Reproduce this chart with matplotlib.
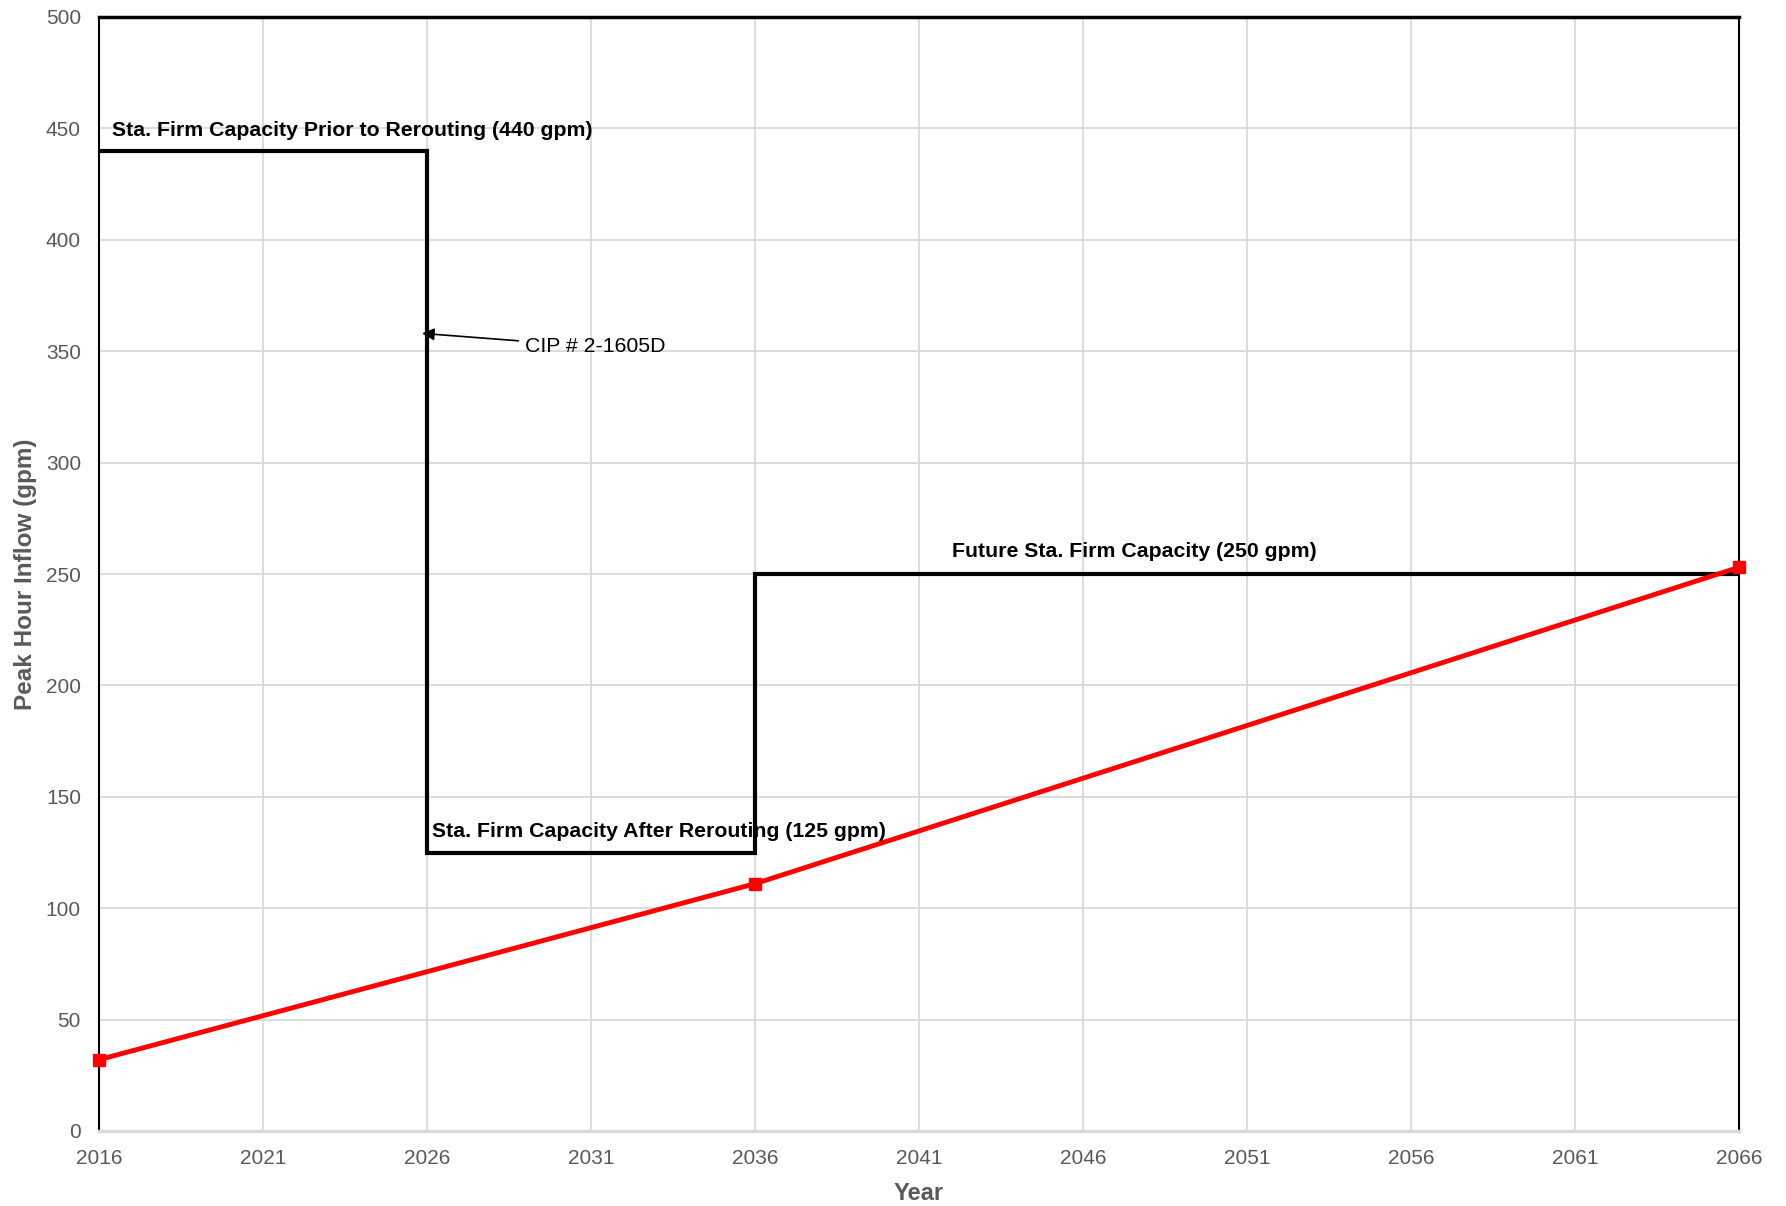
import matplotlib.pyplot as plt

plt.rcParams['font.family'] = ['Liberation Sans', 'DejaVu Sans']

# peak hour inflow projection
inflow_years = [2016, 2036, 2066]
inflow_gpm = [32, 111, 253]

# station firm capacity steps
cap_years = [2016, 2026, 2026, 2036, 2036, 2066]
cap_gpm = [440, 440, 125, 125, 250, 250]

x_ticks = list(range(2016, 2067, 5))
y_ticks = list(range(0, 501, 50))

GRAY = "#595959"
GRID = "#d9d9d9"

fig = plt.figure(figsize=(17.86, 12.06), dpi=100)
ax = fig.add_axes([99 / 1786, 1 - 1131 / 1206, 1640 / 1786, 1114 / 1206])

ax.plot(cap_years, cap_gpm, color="black", lw=3, zorder=3, solid_joinstyle="miter")
ax.plot(inflow_years, inflow_gpm, color="#ff0000", lw=3.5, marker="s", ms=9,
        zorder=4, clip_on=False)

ax.set_xlim(2016, 2066)
ax.set_ylim(0, 500)
ax.set_xticks(x_ticks)
ax.set_yticks(y_ticks)
ax.grid(True, color=GRID, lw=1.3)
ax.set_axisbelow(True)
ax.tick_params(length=0, labelsize=15, colors=GRAY)
ax.tick_params(axis="x", pad=13)
ax.tick_params(axis="y", pad=13)

for side in ("left", "right"):
    ax.spines[side].set_color("black")
    ax.spines[side].set_linewidth(1.5)
ax.spines["top"].set_color("black")
ax.spines["top"].set_linewidth(2.5)
ax.spines["bottom"].set_color(GRID)
ax.spines["bottom"].set_linewidth(2.5)

ax.set_xlabel("Year", fontsize=17, fontweight="bold", color=GRAY, labelpad=10)
ax.set_ylabel("Peak Hour Inflow (gpm)", fontsize=17.5, fontweight="bold", color=GRAY,
              labelpad=6)

ax.text(2016.4, 445, "Sta. Firm Capacity Prior to Rerouting (440 gpm)",
        fontsize=15.3, fontweight="bold", va="bottom")
ax.text(2026.15, 130, "Sta. Firm Capacity After Rerouting (125 gpm)",
        fontsize=15.3, fontweight="bold", va="bottom")
ax.text(2042.0, 256, "Future Sta. Firm Capacity (250 gpm)",
        fontsize=15.3, fontweight="bold", va="bottom")

ax.annotate("CIP # 2-1605D", xy=(2025.85, 358), xytext=(2029.0, 352),
            fontsize=15.3, va="center",
            arrowprops=dict(arrowstyle="-|>", color="black", lw=1.2,
                            mutation_scale=18, shrinkA=3, shrinkB=0))

fig.savefig("out.png", dpi=100)
plt.close(fig)
